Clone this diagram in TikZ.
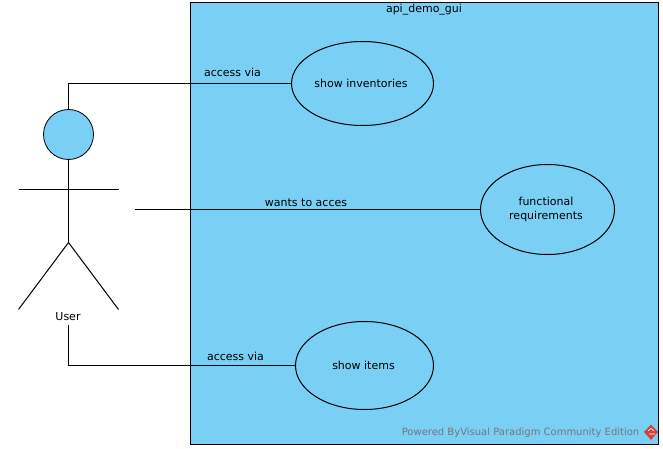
\documentclass[tikz,border=0pt]{standalone}
\usepackage{fontspec}
\setmainfont{DejaVu Sans}
\definecolor{vpblue}{RGB}{122,207,245}
\definecolor{vpgrey}{RGB}{118,118,128}
\definecolor{vpred}{RGB}{214,66,60}
\tikzset{
  wire/.style={draw=black,line width=1pt},
  usecase/.style={ellipse,draw=black,fill=vpblue,line width=1pt,inner sep=0pt,align=center,font=\fontsize{11}{14}\selectfont},
  lbl/.style={inner sep=0pt,font=\fontsize{11}{13}\selectfont}
}
\usetikzlibrary{shapes.geometric}
\begin{document}
\begin{tikzpicture}[x=1pt,y=-1pt]
\useasboundingbox (0,0) rectangle (663,449);
\fill[white] (0,0) rectangle (663,449);
\node[draw=black,fill=vpblue,line width=1pt,minimum width=468pt,minimum height=441.5pt,inner sep=0pt,anchor=north west] (sys) at (190,2.5) {};
\node[lbl] (systitle) at (424,9.5) {api\_demo\_gui};
\node[usecase,minimum width=142pt,minimum height=84pt] (inv) at (362.5,83.5) {\hspace*{-3pt}show inventories};
\node[usecase,minimum width=134pt,minimum height=90pt] (func) at (547.5,209.5) {\hspace*{-3pt}\raisebox{-1pt}{functional}\\\hspace*{-3pt}\raisebox{-1pt}{requirements}};
\node[usecase,minimum width=138pt,minimum height=88pt] (items) at (364.5,365.5) {\hspace*{-2pt}show items};
% actor
\node[circle,draw=black,fill=vpblue,line width=.8pt,minimum size=50pt,inner sep=0pt] (head) at (68.5,134.5) {};
\coordinate (hip) at (68.5,242.5);
\coordinate (armL) at (18.5,189.5);
\coordinate (armR) at (118.5,189.5);
\coordinate (footL) at (18.5,309.5);
\coordinate (footR) at (118.5,309.5);
\draw[wire] (head) -- (hip);
\draw[wire] (armL) -- (armR);
\draw[wire] (footL) -- (hip) -- (footR);
\node[lbl] (user) at (68,317) {User};
% connectors
\coordinate (c1) at (68.5,83.5);
\coordinate (c2) at (68.5,365.5);
\coordinate (actorR) at (134.5,209.5);
\coordinate (userB) at (68.5,325);
\draw[wire] (head) -- (c1) -- (inv);
\draw[wire] (actorR) -- (func);
\draw[wire] (userB) -- (c2) -- (items);
\node[lbl] (l1) at (232.5,72) {access via};
\node[lbl] (l2) at (306,203) {wants to acces};
\node[lbl] (l3) at (235.5,356) {access via};
% watermark
\node[inner sep=0pt,anchor=east,text=vpgrey,font=\fontsize{10}{12}\selectfont] (wm) at (639.5,433) {Powered ByVisual Paradigm Community Edition};
\fill[vpred] (651,424.5) -- (658,432) -- (651,440) -- (644,432) -- cycle;
\draw[white,line width=.6pt] (648,431) -- (651,428.5) -- (654,431) (649,434) -- (655,434);
\end{tikzpicture}
\end{document}
